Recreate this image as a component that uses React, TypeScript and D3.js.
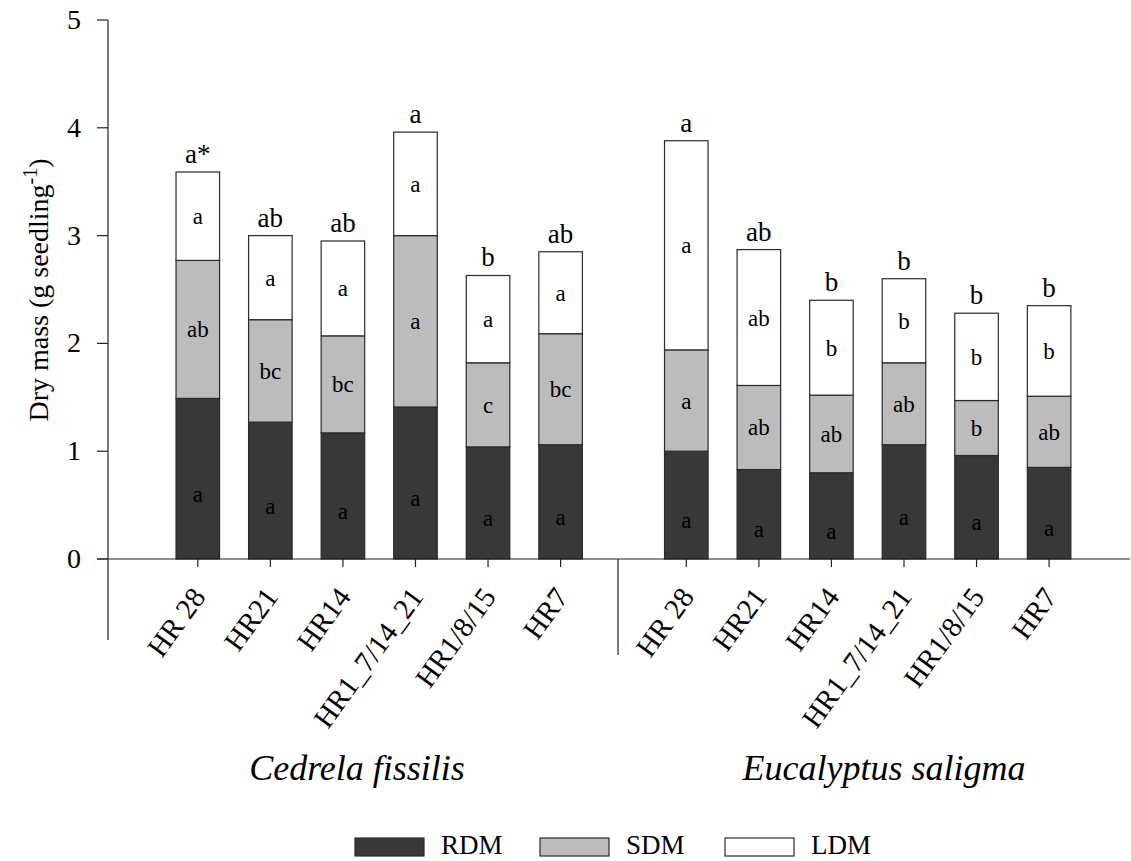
import React, { useEffect, useRef } from "react";
import * as d3 from "d3";

const treatments = ["HR 28", "HR21", "HR14", "HR1_7/14_21", "HR1/8/15", "HR7"];
const species = ["Cedrela fissilis", "Eucalyptus saligma"];
const massKeys = ["RDM", "SDM", "LDM"];
const yTicks = [0, 1, 2, 3, 4, 5];

// segment values (g seedling-1), per species, per treatment
const cedrelaRDM = [1.49, 1.27, 1.17, 1.41, 1.04, 1.06];
const cedrelaSDM = [1.28, 0.95, 0.90, 1.59, 0.78, 1.03];
const cedrelaLDM = [0.82, 0.78, 0.88, 0.96, 0.81, 0.76];
const eucalyptusRDM = [1.0, 0.83, 0.8, 1.06, 0.96, 0.85];
const eucalyptusSDM = [0.94, 0.78, 0.72, 0.76, 0.51, 0.66];
const eucalyptusLDM = [1.94, 1.26, 0.88, 0.78, 0.81, 0.84];

// significance letters
const cedrelaLetters = [
  ["a", "ab", "a"], ["a", "bc", "a"], ["a", "bc", "a"],
  ["a", "a", "a"], ["a", "c", "a"], ["a", "bc", "a"],
];
const cedrelaTop = ["a*", "ab", "ab", "a", "b", "ab"];
const eucalyptusLetters = [
  ["a", "a", "a"], ["a", "ab", "ab"], ["a", "ab", "b"],
  ["a", "ab", "b"], ["a", "b", "b"], ["a", "ab", "b"],
];
const eucalyptusTop = ["a", "ab", "b", "b", "b", "b"];

const colors = ["#383838", "#bcbcbc", "#ffffff"];

export default function App() {
  const ref = useRef<SVGSVGElement | null>(null);

  useEffect(() => {
    const svg = d3.select(ref.current);
    svg.selectAll("*").remove();
    const font = "'Liberation Serif', 'Times New Roman', serif";

    const y = d3.scaleLinear().domain([0, 5]).range([559, 20]);

    const groups = [
      { name: species[0], range: [147, 611.4], center: 357, vals: [cedrelaRDM, cedrelaSDM, cedrelaLDM], letters: cedrelaLetters, top: cedrelaTop },
      { name: species[1], range: [635.5, 1099.9], center: 884, vals: [eucalyptusRDM, eucalyptusSDM, eucalyptusLDM], letters: eucalyptusLetters, top: eucalyptusTop },
    ];

    groups.forEach(g => {
      const x = d3.scaleBand().domain(treatments).range(g.range as [number, number]).padding(0.4);
      const rows = treatments.map((t, i) => {
        const r: any = { t };
        massKeys.forEach((k, j) => (r[k] = g.vals[j][i]));
        return r;
      });
      const stacked = d3.stack().keys(massKeys)(rows);
      const gg = svg.append("g");

      stacked.forEach((s, si) => {
        gg.selectAll(null)
          .data(s)
          .join("rect")
          .attr("x", (d: any) => x(d.data.t)!)
          .attr("y", d => y(d[1]))
          .attr("width", x.bandwidth())
          .attr("height", d => y(d[0]) - y(d[1]))
          .attr("fill", colors[si])
          .attr("stroke", "#2a2a2a")
          .attr("stroke-width", 1.2);

        gg.selectAll(null)
          .data(s)
          .join("text")
          .attr("x", (d: any) => x(d.data.t)! + x.bandwidth() / 2)
          .attr("y", d => (y(d[0]) + y(d[1])) / 2 + (si === 0 ? 23 : 8))
          .attr("text-anchor", "middle")
          .attr("font-family", font)
          .attr("font-size", 23)
          .attr("fill", "#000")
          .text((d, i) => g.letters[i][si]);
      });

      const last = stacked[stacked.length - 1];
      gg.selectAll(null)
        .data(last)
        .join("text")
        .attr("x", (d: any) => x(d.data.t)! + x.bandwidth() / 2)
        .attr("y", d => y(d[1]) - 9)
        .attr("text-anchor", "middle")
        .attr("font-family", font)
        .attr("font-size", 27)
        .text((d, i) => g.top[i]);

      // x ticks and rotated labels
      treatments.forEach(t => {
        const cx = x(t)! + x.bandwidth() / 2;
        gg.append("line")
          .attr("x1", cx).attr("x2", cx)
          .attr("y1", 559).attr("y2", 567)
          .attr("stroke", "#222").attr("stroke-width", 1.2);
        gg.append("text")
          .attr("transform", `translate(${cx + 9}, 597) rotate(-54)`)
          .attr("text-anchor", "end")
          .attr("font-family", font)
          .attr("font-size", 29)
          .text(t);
      });

      gg.append("text")
        .attr("x", g.center)
        .attr("y", 780)
        .attr("text-anchor", "middle")
        .attr("font-family", font)
        .attr("font-style", "italic")
        .attr("font-size", 36)
        .text(g.name);
    });

    // y axis
    const yAxis = svg.append("g");
    yAxis.append("line")
      .attr("x1", 108).attr("x2", 108).attr("y1", y(5)).attr("y2", 640)
      .attr("stroke", "#222").attr("stroke-width", 1.2);
    yTicks.forEach(v => {
      yAxis.append("line")
        .attr("x1", 97).attr("x2", 108).attr("y1", y(v)).attr("y2", y(v))
        .attr("stroke", "#222").attr("stroke-width", 1.2);
      yAxis.append("text")
        .attr("x", 81).attr("y", y(v) + 9)
        .attr("text-anchor", "end")
        .attr("font-family", font)
        .attr("font-size", 28)
        .text(v);
    });

    // x axis line and species separator
    svg.append("line")
      .attr("x1", 97).attr("x2", 1130).attr("y1", 559).attr("y2", 559)
      .attr("stroke", "#222").attr("stroke-width", 1.2);
    svg.append("line")
      .attr("x1", 618).attr("x2", 618).attr("y1", 559).attr("y2", 655)
      .attr("stroke", "#222").attr("stroke-width", 1.2);

    // y title
    const title = svg.append("text")
      .attr("transform", "translate(48, 290) rotate(-90)")
      .attr("text-anchor", "middle")
      .attr("font-family", font)
      .attr("font-size", 28);
    title.append("tspan").text("Dry mass (g seedling");
    title.append("tspan").attr("dy", -11).attr("font-size", 20).text("-1");
    title.append("tspan").attr("dy", 11).text(")");

    // legend
    const legendX = [355, 540, 725];
    massKeys.forEach((k, i) => {
      svg.append("rect")
        .attr("x", legendX[i]).attr("y", 838)
        .attr("width", 69).attr("height", 18)
        .attr("fill", colors[i])
        .attr("stroke", "#2a2a2a").attr("stroke-width", 1.2);
      svg.append("text")
        .attr("x", legendX[i] + 86).attr("y", 854)
        .attr("font-family", font)
        .attr("font-size", 27)
        .text(k);
    });
  }, []);

  return (
    <svg
      ref={ref}
      width={1131}
      height={861}
      style={{ position: "absolute", left: 0, top: 0, background: "#fff" }}
    />
  );
}
